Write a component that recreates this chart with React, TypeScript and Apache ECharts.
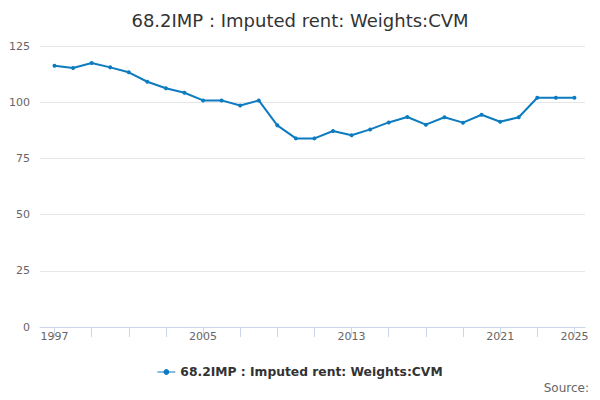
import React, { useEffect, useRef } from "react";
import * as echarts from "echarts";

const years = [1997,1998,1999,2000,2001,2002,2003,2004,2005,2006,2007,2008,2009,2010,2011,2012,2013,2014,2015,2016,2017,2018,2019,2020,2021,2022,2023,2024,2025];
const values = [116.2,115.2,117.4,115.5,113.3,109.1,106.2,104.2,100.8,100.8,98.5,100.8,89.7,83.9,83.9,87.2,85.3,87.9,91.0,93.4,90.0,93.3,90.9,94.4,91.3,93.3,102.0,102.0,102.0];
const tickYears = [1997,1999,2001,2003,2005,2007,2009,2011,2013,2015,2017,2019,2021,2023,2025];
const labelYears = [1997,2005,2013,2021,2025];
const seriesName = "68.2IMP : Imputed rent: Weights:CVM";
const titleText = "68.2IMP : Imputed rent: Weights:CVM";

export default function App() {
  const ref = useRef<HTMLDivElement>(null);
  useEffect(() => {
    if (!ref.current) return;
    document.body.style.margin = "0";
    const chart = echarts.init(ref.current, null, { renderer: "svg" });
    const font = "DejaVu Sans";
    chart.setOption({
      animation: false,
      textStyle: { fontFamily: font },
      title: {
        text: titleText,
        left: "center",
        top: 6,
        textStyle: { fontFamily: font, fontSize: 18, fontWeight: "normal", color: "#333333" },
      },
      legend: {
        bottom: 17,
        left: "center",
        itemWidth: 18,
        itemHeight: 10,
        textStyle: { fontFamily: font, fontSize: 12.3, fontWeight: "bold", color: "#333333" },
        data: [{ name: seriesName, icon: "path://M0,4.5 L18,4.5 L18,5.5 L0,5.5 Z M7,3 A2,2 0 1 1 11,7 A2,2 0 1 1 7,3 Z" }],
      },
      graphic: [
        {
          type: "text",
          right: 11,
          bottom: 6,
          style: { text: "Source:", fontFamily: font, fontSize: 12, fill: "#666666" },
        },
      ],
      grid: { left: 40, right: 15, top: 46, bottom: 73 },
      xAxis: {
        type: "value",
        min: 1996.22,
        max: 2025.57,
        splitLine: { show: false },
        axisLine: { show: true, lineStyle: { color: "#ccd6eb", width: 1 } },
        axisTick: { show: true, length: 10, customValues: tickYears, lineStyle: { color: "#ccd6eb" } },
        axisLabel: {
          customValues: labelYears,
          color: "#666666",
          fontSize: 11,
          fontFamily: font,
          margin: 4,
          formatter: (v: number) => String(Math.round(v)),
        },
      },
      yAxis: {
        type: "value",
        min: 0,
        max: 125,
        interval: 25,
        axisLine: { show: false },
        axisTick: { show: false },
        splitLine: { lineStyle: { color: "#e6e6e6" } },
        axisLabel: { color: "#666666", fontSize: 11, fontFamily: font, margin: 10 },
      },
      series: [
        {
          name: seriesName,
          type: "line",
          data: years.map((y, i) => [y, values[i]]),
          symbol: "circle",
          symbolSize: 4,
          itemStyle: { color: "#0c7bc0" },
          lineStyle: { color: "#0c7bc0", width: 2 },
        },
      ],
    });
    return () => chart.dispose();
  }, []);
  return <div ref={ref} style={{ width: 600, height: 400 }} />;
}
